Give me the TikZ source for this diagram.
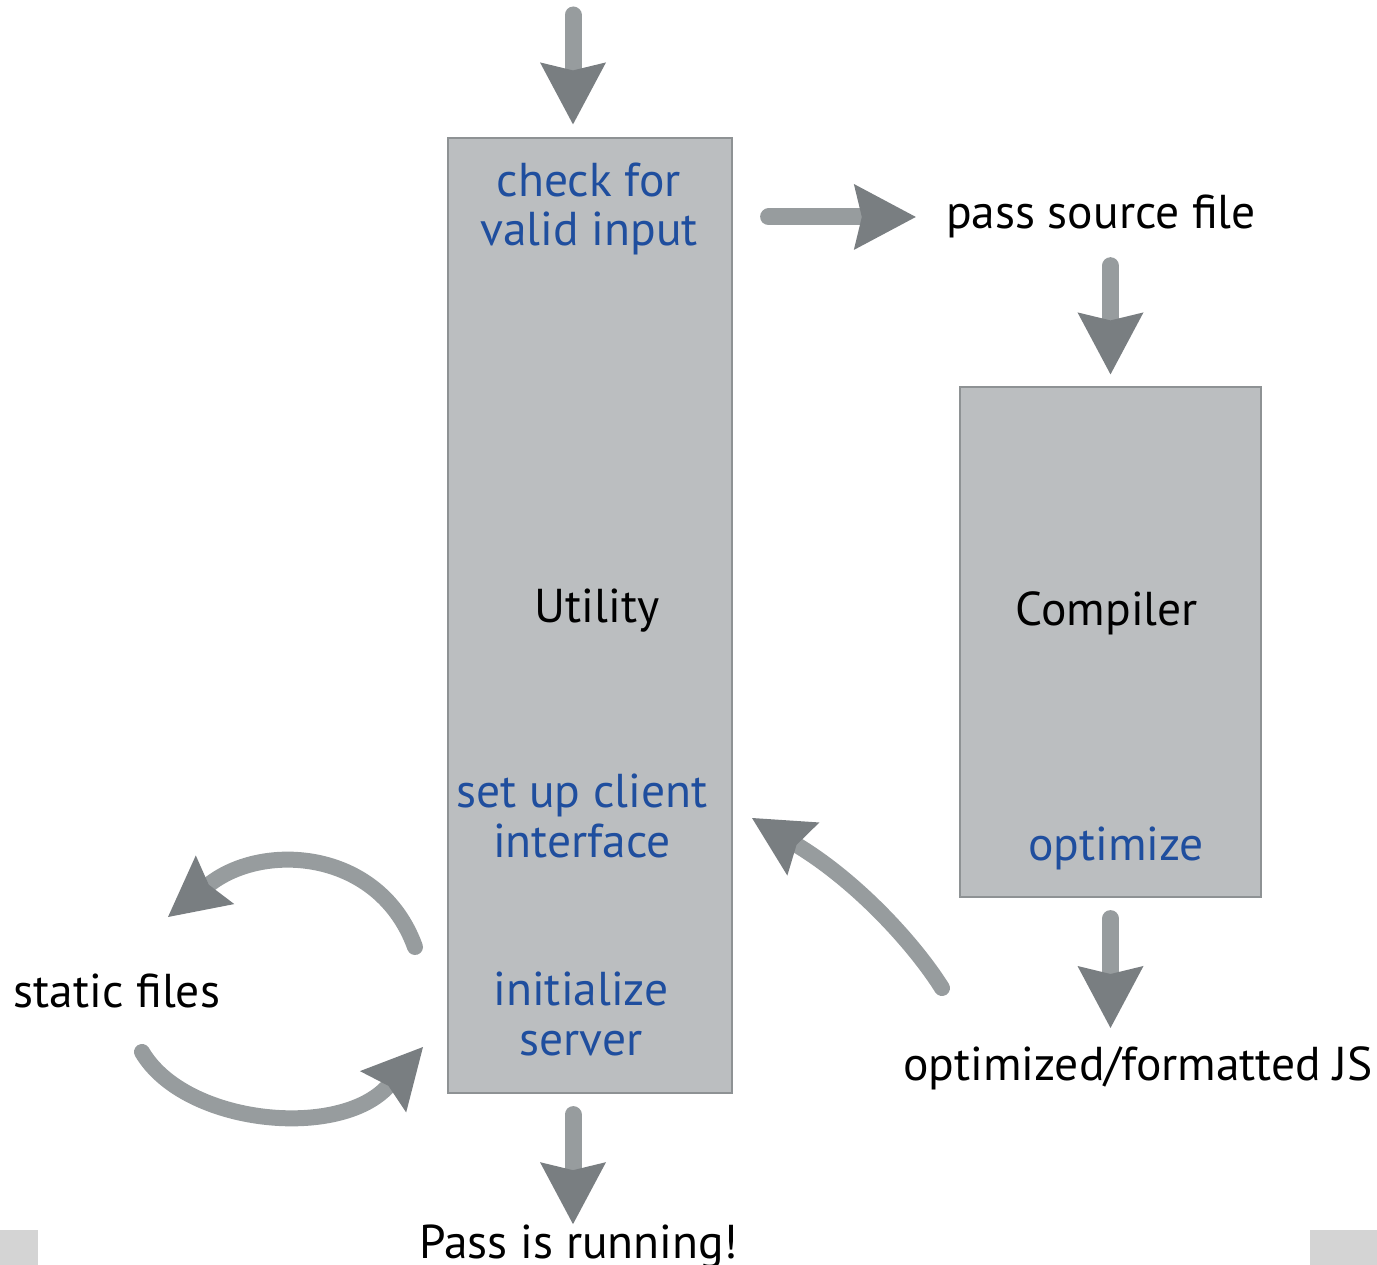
\documentclass[tikz,border=0pt]{standalone}
\usepackage{fontspec}
\setmainfont{PT Sans}
\usetikzlibrary{arrows.meta,calc}
\definecolor{boxfill}{HTML}{BBBEC0}
\definecolor{boxline}{HTML}{8E9294}
\definecolor{stepblue}{HTML}{1F4E9E}
\definecolor{shaftgray}{HTML}{979C9E}
\definecolor{tipgray}{HTML}{797E81}
\definecolor{cornergray}{HTML}{D4D4D4}

\begin{document}
\begin{tikzpicture}[x=1pt,y=-1pt,
  block/.style={draw=boxline, line width=1.2pt, fill=boxfill, inner sep=0pt},
  lbl/.style={font=\fontsize{47.5}{49.5}\selectfont, inner sep=0pt, anchor=base, align=center},
  steptxt/.style={lbl, text=stepblue},
  flow/.style={line width=17pt, draw=shaftgray, line cap=round,
    -{Stealth[length=62pt,width=66pt,inset=8pt,line width=0pt,color=tipgray]}},
  swing/.style={line width=16pt, draw=shaftgray, line cap=round,
    -{Stealth[length=60pt,width=62pt,inset=8pt,line width=0pt,color=tipgray]}}
]
% page frame
\useasboundingbox (0,0) rectangle (1377,1265);
\fill[cornergray] (0,1230) rectangle (38,1265);
\fill[cornergray] (1310,1230) rectangle (1377,1265);

% the two process blocks
\node[block, minimum width=284pt, minimum height=955pt] (utility) at (590,615.5) {};
\node[block, minimum width=301pt, minimum height=510pt] (compiler) at (1110.5,642) {};

% block titles and steps (base = baseline of the last line)
\node[lbl] (utitle) at (597,622) {Utility};
\node[lbl] (ctitle) at (1107,625) {Compiler};
\node[steptxt] (check) at (589,246) {check for\\valid input};
\node[steptxt] (client) at (582,857) {set up client\\interface};
\node[steptxt] (server) at (581,1055) {initialize\\server};
\node[steptxt] (optimize) at (1116,860) {optimize};

% outside labels
\node[lbl] (pass) at (1101,229) {pass source file};
\node[lbl] (static) at (117,1007) {static files};
\node[lbl] (js) at (1138,1080) {optimized/formatted JS};
\node[lbl] (running) at (579,1258) {Pass is running!};

% free ends of the curved connectors
\coordinate (feed) at (573,15);
\coordinate (srvout) at (415,947);
\coordinate (filesin) at (168,917);
\coordinate (filesout) at (142,1052);
\coordinate (srvin) at (423,1047);
\coordinate (jsout) at (942,988);
\coordinate (clientin) at (752,818);

% straight flow arrows
\draw[flow, shorten >=13pt] (feed) -- (feed |- utility.north);
\draw[flow, shorten <=36pt, shorten >=30pt] (utility.east |- pass.west) -- (pass.west);
\draw[flow, shorten <=27pt, shorten >=12pt] (pass.south -| compiler.north) -- (compiler.north);
\draw[flow, shorten <=21pt, shorten >=18pt] (compiler.south) -- (js.north -| compiler.south);
\draw[flow, shorten <=21pt] (utility.south -| feed) -- (running.north -| feed);

% curved arrows
\draw[swing] (jsout) .. controls (915,945) and (858,882) .. (clientin);
\draw[swing] (srvout) .. controls (380,850) and (264,841) .. (filesin);
\draw[swing] (filesout) .. controls (185,1125) and (340,1140) .. (srvin);
\end{tikzpicture}
\end{document}
